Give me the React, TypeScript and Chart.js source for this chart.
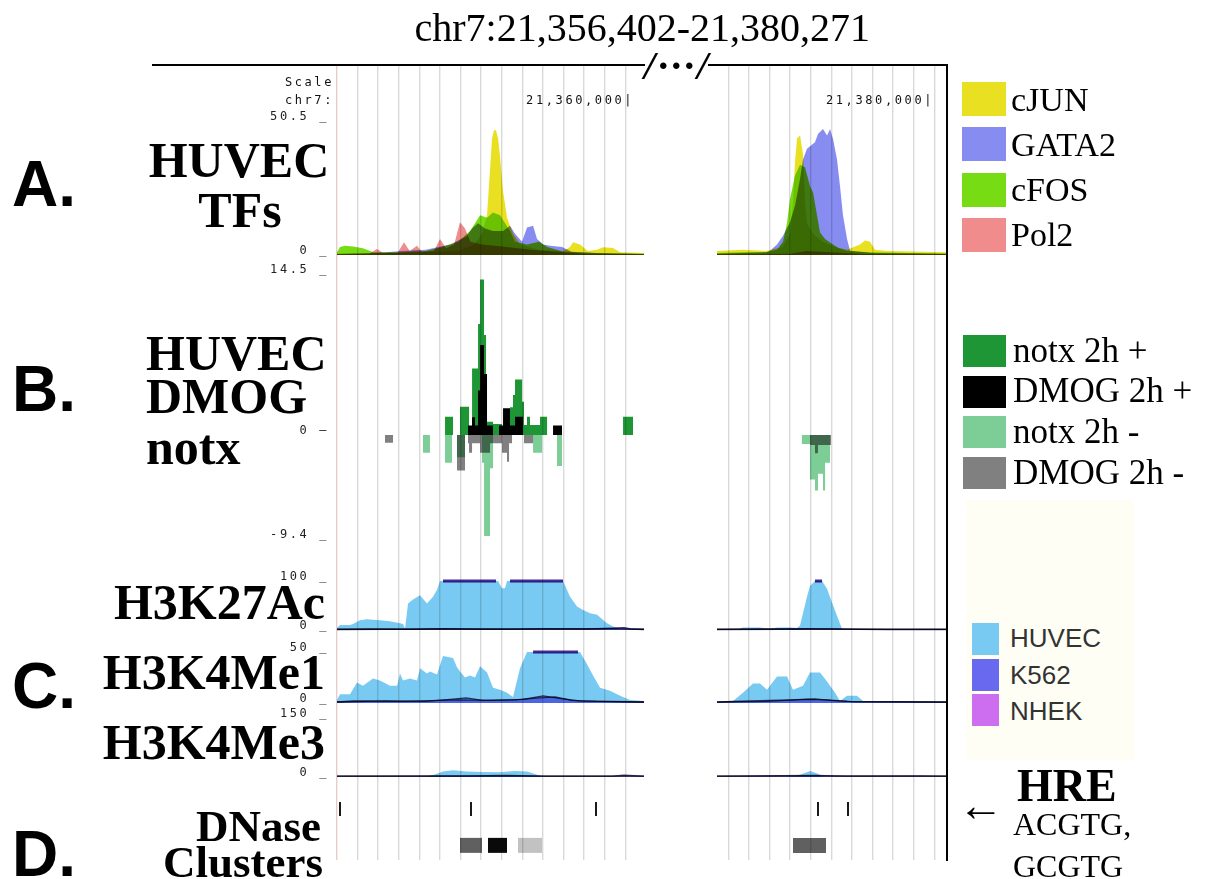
import React, { useEffect, useRef } from 'react';
import { Chart, registerables } from 'chart.js';

Chart.register(...registerables);

type Pt = [number, number];
type Bin = [number, number, number];

// ---------- genomic window (kb on chr7) ----------
const LEFT_WINDOW: [number, number] = [21356.402, 21360.196];
const RIGHT_WINDOW: [number, number] = [21377.392, 21380.222];
const CUT_GAP_KB = 0.902;
const GUIDE_STEP_KB = 0.25457;
const GUIDE_COUNT = 30;
const RULER_POSITIONS = [21360000, 21380000];

// ---------- colours ----------
const C_CJUN = '#e8e020';
const C_GATA2 = '#878cf0';
const C_CFOS = '#78dc14';
const C_POL2 = '#f08c8c';
const C_NOTX_P = '#1e9636';
const C_DMOG_P = '#000000';
const C_NOTX_M = '#7dcd96';
const C_DMOG_M = '#808080';
const C_HUVEC = '#78caf2';
const C_K562 = '#6969f0';
const C_NHEK = '#cd6ef0';

// ---------- A. HUVEC TFs (signal 0-50.5) ----------
const CJUN_L: Pt[] = [[21356.402,0.6],[21356.6,0.8],[21356.9,0.6],[21357.2,0.8],[21357.6,1.2],[21357.9,1.5],[21358.1,4],[21358.194,8],[21358.256,15],[21358.293,32],[21358.318,44],[21358.342,47],[21358.367,47],[21358.392,44],[21358.417,37],[21358.454,24],[21358.503,14],[21358.577,8],[21358.664,4],[21358.9,2],[21359.2,1.5],[21359.282,3],[21359.319,4.8],[21359.405,4],[21359.5,1.5],[21359.616,2],[21359.69,2.9],[21359.813,2.6],[21359.9,1],[21360.196,0.8]];
const CJUN_R: Pt[] = [[21377.392,1.5],[21377.7,2],[21378.0,1.5],[21378.2,3],[21378.294,8],[21378.331,20],[21378.356,35],[21378.381,44],[21378.418,45],[21378.455,38],[21378.48,20],[21378.504,12],[21378.579,8],[21378.7,5],[21378.85,3],[21379.0,2],[21379.159,4],[21379.221,5.5],[21379.283,5],[21379.345,2],[21379.5,1.5],[21380.222,1]];
const GATA2_L: Pt[] = [[21356.402,0.4],[21356.9,0.8],[21357.2,1.5],[21357.5,2],[21357.8,4],[21358.0,7],[21358.071,10],[21358.145,12],[21358.231,10],[21358.33,9],[21358.454,9],[21358.54,11],[21358.602,8],[21358.689,5],[21358.75,10.4],[21358.825,11],[21358.874,6],[21358.95,4],[21359.035,3.5],[21359.183,3],[21359.3,1.2],[21359.6,0.8],[21360.196,0.4]];
const GATA2_R: Pt[] = [[21377.392,0.5],[21378.0,1],[21378.047,1.6],[21378.134,4],[21378.208,7.3],[21378.294,12.3],[21378.356,18.6],[21378.418,28.6],[21378.455,36],[21378.504,40],[21378.603,42.5],[21378.64,45.6],[21378.702,47.5],[21378.752,45],[21378.789,47.5],[21378.826,43.7],[21378.875,36],[21378.912,26],[21378.949,15],[21378.999,6],[21379.036,1.6],[21379.3,0.8],[21380.222,0.5]];
const CFOS_L: Pt[] = [[21356.402,1],[21356.439,3],[21356.501,3.5],[21356.6,3.2],[21356.723,2.5],[21356.85,1],[21357.2,1],[21357.5,1.5],[21357.7,3],[21357.9,5],[21358.046,9],[21358.108,12],[21358.17,15],[21358.256,14],[21358.33,16],[21358.417,15],[21358.479,12],[21358.54,9],[21358.6,5],[21358.75,4],[21358.9,5],[21359.0,3],[21359.2,1.2],[21359.6,0.8],[21360.196,0.5]];
const CFOS_R: Pt[] = [[21377.392,0.8],[21377.7,1],[21378.0,1],[21378.134,2],[21378.208,5],[21378.257,12],[21378.294,21],[21378.356,30],[21378.418,34],[21378.48,33],[21378.541,26],[21378.579,23.6],[21378.628,15],[21378.665,8.5],[21378.727,6],[21378.826,4],[21378.9,2.5],[21379.0,1.5],[21379.3,1],[21380.222,0.5]];
const POL2_L: Pt[] = [[21356.402,0.3],[21356.8,0.5],[21356.896,2.3],[21356.971,0.8],[21357.15,0.8],[21357.23,4.8],[21357.3,1.5],[21357.391,3.5],[21357.45,1.2],[21357.6,1.5],[21357.675,6],[21357.75,2.5],[21357.85,4],[21357.922,12.3],[21357.984,10],[21358.05,5],[21358.2,4],[21358.5,3],[21358.8,2],[21359.2,1],[21359.5,0.5],[21360.196,0.3]];
const POL2_R: Pt[] = [[21377.392,0.3],[21378.3,0.5],[21378.5,1.5],[21378.8,1],[21379.2,0.4],[21380.222,0.3]];

// ---------- B. HUVEC DMOG / notx (signal -9.4..14.5), bins [start, end, value] ----------
const NOTX_PLUS: Bin[] = [[21357.737,21357.836,1.65],[21357.922,21358.034,2.55],[21358.071,21358.145,6.0],[21358.145,21358.17,10],[21358.17,21358.219,14],[21358.219,21358.244,9],[21358.244,21358.33,1.2],[21358.33,21358.441,1.0],[21358.54,21358.577,2.5],[21358.577,21358.602,3.6],[21358.602,21358.689,5.0],[21358.689,21358.713,3.0],[21358.713,21358.75,0.9],[21358.75,21358.787,1.65],[21358.787,21358.911,0.9],[21358.911,21358.998,1.65],[21359.937,21360.061,1.65]];
const DMOG_PLUS: Bin[] = [[21358.021,21358.071,0.85],[21358.071,21358.108,1.6],[21358.108,21358.145,0.85],[21358.145,21358.17,4],[21358.17,21358.219,8.1],[21358.219,21358.256,5.5],[21358.256,21358.33,0.85],[21358.404,21358.454,0.85],[21358.454,21358.54,2.4],[21358.54,21358.602,0.85],[21358.602,21358.701,1.65],[21359.072,21359.183,0.85]];
const NOTX_MINUS: Bin[] = [[21357.465,21357.551,-1.6],[21357.737,21357.823,-2.5],[21357.885,21357.984,-2.0],[21358.194,21358.219,-2.5],[21358.219,21358.293,-9.1],[21358.293,21358.33,-3],[21358.825,21358.936,-1.6],[21359.121,21359.183,-2.8],[21378.441,21378.541,-0.8],[21378.541,21378.603,-4.0],[21378.603,21378.64,-5.0],[21378.64,21378.702,-3.5],[21378.702,21378.727,-5.0],[21378.727,21378.789,-2.5]];
const DMOG_MINUS: Bin[] = [[21356.995,21357.094,-0.7],[21357.885,21357.984,-3.2],[21358.021,21358.034,-0.75],[21358.034,21358.071,-1.6],[21358.071,21358.17,-0.75],[21358.17,21358.293,-1.6],[21358.293,21358.441,-0.75],[21358.441,21358.503,-1.6],[21358.503,21358.528,-2.4],[21358.528,21358.565,-0.75],[21358.713,21358.825,-0.75],[21378.541,21378.603,-0.9],[21378.603,21378.64,-1.65],[21378.64,21378.801,-0.9]];

// ---------- C. histone marks ----------
const K27_HUVEC_L: Pt[] = [[21356.402,4],[21356.439,10],[21356.563,10],[21356.6,12],[21356.686,20],[21356.773,22],[21356.847,21],[21356.933,20],[21357.057,18],[21357.181,14],[21357.218,12],[21357.243,3],[21357.28,54],[21357.341,62],[21357.428,71],[21357.514,54],[21357.589,68],[21357.638,82],[21357.675,100],[21358.392,100],[21358.441,85],[21358.479,85],[21358.503,100],[21359.195,100],[21359.282,68],[21359.368,48],[21359.443,41],[21359.529,34],[21359.616,31],[21359.739,14],[21359.813,7],[21359.9,3],[21360.196,3]];
const K27_HUVEC_R: Pt[] = [[21377.392,1],[21377.65,1.5],[21377.713,5],[21377.924,5],[21378.047,2],[21378.134,5],[21378.294,5],[21378.38,4],[21378.418,9],[21378.455,34],[21378.504,68],[21378.541,90],[21378.603,100],[21378.69,100],[21378.752,84],[21378.813,56],[21378.875,29],[21378.937,2],[21379.2,1],[21380.222,1]];
const K27_K562_L: Pt[] = [[21356.402,1.5],[21356.8,2],[21357.3,1.5],[21357.7,3],[21358.1,2],[21358.6,2.5],[21359.0,3],[21359.5,2],[21359.8,4],[21359.95,5],[21360.05,2],[21360.196,1.5]];
const K27_K562_R: Pt[] = [[21377.392,1.5],[21377.9,2],[21378.5,3],[21378.8,2.5],[21379.2,1.5],[21380.222,1.5]];
const K27_NHEK_L: Pt[] = [[21356.402,1],[21357.0,1.5],[21357.8,2],[21358.5,1.5],[21359.2,2],[21359.85,3],[21360.196,1]];
const K27_NHEK_R: Pt[] = [[21377.392,1],[21378.2,1.5],[21378.8,2],[21379.5,1],[21380.222,1]];
const K27_CLIPPED: [number, number][] = [[21357.712,21358.367],[21358.54,21359.195],[21378.603,21378.69]];

const M1_HUVEC_L: Pt[] = [[21356.402,3],[21356.439,8.5],[21356.563,8.5],[21356.649,20],[21356.723,17],[21356.847,24],[21356.933,22],[21357.057,17],[21357.144,17],[21357.181,29],[21357.218,22],[21357.304,24],[21357.391,22],[21357.428,34],[21357.514,29],[21357.551,31],[21357.638,28],[21357.712,46],[21357.836,44],[21357.885,35],[21357.922,31],[21357.984,25],[21358.046,27],[21358.108,25],[21358.17,36],[21358.256,30],[21358.33,15],[21358.417,13],[21358.503,10],[21358.577,6],[21358.664,34],[21358.75,50],[21359.405,50],[21359.492,38],[21359.566,27],[21359.653,15],[21359.776,12],[21359.9,7],[21360.023,3],[21360.196,2]];
const M1_HUVEC_R: Pt[] = [[21377.392,1],[21377.59,2],[21377.713,10],[21377.837,19],[21377.924,19],[21378.01,13],[21378.134,26],[21378.257,26],[21378.331,13],[21378.455,17],[21378.541,30],[21378.665,30],[21378.752,21],[21378.851,10],[21378.912,2],[21378.999,7],[21379.122,7],[21379.197,2],[21379.6,2],[21380.222,1]];
const M1_K562_L: Pt[] = [[21356.402,1],[21357.0,2],[21357.5,1.5],[21357.8,3.5],[21358.0,5],[21358.2,2.5],[21358.6,3],[21358.9,5],[21359.1,6],[21359.3,2.5],[21359.6,1.5],[21360.196,1]];
const M1_K562_R: Pt[] = [[21377.392,1],[21377.8,2],[21378.3,3],[21378.6,4],[21378.8,2.5],[21379.0,1.5],[21380.222,1]];
const M1_NHEK_L: Pt[] = [[21356.402,1],[21356.6,2],[21357.2,1.5],[21357.9,3],[21358.3,2.5],[21358.7,3.5],[21358.95,7],[21359.15,4.5],[21359.4,2],[21360.196,1]];
const M1_NHEK_R: Pt[] = [[21377.392,1],[21378.0,1.5],[21378.5,3.5],[21378.75,3],[21379.1,1.2],[21380.222,1]];
const M1_CLIPPED: [number, number][] = [[21358.825,21359.38]];

const M3_HUVEC_L: Pt[] = [[21356.402,1],[21357.5,1],[21357.6,6],[21357.712,14],[21357.836,17],[21358.0,14],[21358.2,13],[21358.4,12],[21358.6,15],[21358.75,14],[21358.874,6],[21358.95,1],[21360.196,1]];
const M3_HUVEC_R: Pt[] = [[21377.392,1],[21378.3,1],[21378.418,6],[21378.541,15],[21378.64,8],[21378.702,1],[21380.222,1]];
const M3_K562_L: Pt[] = [[21356.402,2],[21358.0,3],[21358.5,4],[21359.0,2],[21360.196,2]];
const M3_K562_R: Pt[] = [[21377.392,2],[21378.6,4],[21379.0,2],[21380.222,2]];
const M3_NHEK_L: Pt[] = [[21356.402,2],[21359.8,2],[21359.95,5],[21360.196,2]];
const M3_NHEK_R: Pt[] = [[21377.392,2],[21379.9,3],[21380.222,2]];

// ---------- D. HRE motifs and DNase clusters ----------
const HRE_SITES = [21356.439, 21358.058, 21359.603, 21378.64, 21379.011];
const DNASE_CLUSTERS: Bin[] = [[21357.922,21358.194,650],[21358.268,21358.503,1000],[21358.639,21358.936,250],[21378.331,21378.739,650]];

// ---------- axis tick labels ----------
const TICKS_A = [0, 50.5];
const TICKS_B = [-9.4, 0, 14.5];
const TICKS_K27 = [0, 100];
const TICKS_M1 = [0, 50];
const TICKS_M3 = [0, 150];

// ---------- layout ----------
const W = 1212;
const H = 879;
const PLOT_LEFT = 337;
const PLOT_RIGHT = 946;
const PLOT_TOP = 65;
const PLOT_BOTTOM = 860;
const AXIS_W = 80;
const HRE_ROW = 0.68;
const DNASE_ROW: [number, number] = [0.095, 0.295];

const TRACKS = [
  { id: 'yA', top: 65, bottom: 264, hiVal: 50.5, hiPx: 121, loVal: 0, loPx: 255, ticks: TICKS_A },
  { id: 'yB', top: 264, bottom: 560, hiVal: 14.5, hiPx: 274, loVal: 0, loPx: 435, ticks: TICKS_B },
  { id: 'yK27', top: 560, bottom: 637, hiVal: 100, hiPx: 581, loVal: 0, loPx: 630, ticks: TICKS_K27 },
  { id: 'yM1', top: 637, bottom: 710, hiVal: 50, hiPx: 652, loVal: 0, loPx: 703, ticks: TICKS_M1 },
  { id: 'yM3', top: 710, bottom: 785, hiVal: 150, hiPx: 718, loVal: 0, loPx: 777, ticks: TICKS_M3 },
  { id: 'yD', top: 785, bottom: 860, hiVal: 1, hiPx: 785, loVal: 0, loPx: 860, ticks: [] as number[] },
];

const SERIF = '"Liberation Serif", "Times New Roman", serif';
const SANS = '"Liberation Sans", Arial, sans-serif';
const MONO = '"DejaVu Sans Mono", monospace';

const SHIFT = RIGHT_WINDOW[0] - (LEFT_WINDOW[1] + CUT_GAP_KB);
const disp = (kb: number) => (kb >= RIGHT_WINDOW[0] ? kb - SHIFT : kb);
const GAP_X = LEFT_WINDOW[1] + CUT_GAP_KB / 2;

function area(left: Pt[], right: Pt[]) {
  return [
    ...left.map(([x, y]) => ({ x: disp(x), y })),
    { x: GAP_X, y: null },
    ...right.map(([x, y]) => ({ x: disp(x), y })),
  ];
}
function steps(bins: Bin[]) {
  const out: any[] = [];
  [...bins].sort((a, b) => a[0] - b[0]).forEach(([s, e, v]) => {
    out.push({ x: disp(s), y: 0 }, { x: disp(s), y: v }, { x: disp(e), y: v }, { x: disp(e), y: 0 });
  });
  return out;
}
function clipBars(intervals: [number, number][], value: number) {
  const out: any[] = [];
  intervals.forEach(([s, e]) => {
    out.push({ x: disp(s), y: value }, { x: disp(e), y: value }, { x: disp(e), y: null });
  });
  return out;
}
const withAlpha = (hex: string, a: number) => {
  const n = parseInt(hex.slice(1), 16);
  return `rgba(${(n >> 16) & 255},${(n >> 8) & 255},${n & 255},${a})`;
};
const filled = (data: any[], color: string, axis: string, extra: any = {}) => ({
  data, yAxisID: axis, backgroundColor: color, borderColor: 'rgba(0,0,0,0)', borderWidth: 0,
  fill: 'origin', pointRadius: 0, tension: 0, ...extra,
});
const darkEdge = { borderColor: 'rgba(40,30,60,0.85)', borderWidth: 1.3 };
const grayForScore = (s: number) => {
  const v = Math.round(255 - s * 0.245);
  return `rgb(${v},${v},${v})`;
};

function buildDatasets() {
  const ds: any[] = [
    filled(area(CJUN_L, CJUN_R), C_CJUN, 'yA'),
    filled(area(GATA2_L, GATA2_R), C_GATA2, 'yA'),
    filled(area(CFOS_L, CFOS_R), C_CFOS, 'yA'),
    filled(area(POL2_L, POL2_R), C_POL2, 'yA'),
    filled(steps(NOTX_PLUS), C_NOTX_P, 'yB'),
    filled(steps(DMOG_PLUS), C_DMOG_P, 'yB'),
    filled(steps(NOTX_MINUS), C_NOTX_M, 'yB'),
    filled(steps(DMOG_MINUS), C_DMOG_M, 'yB'),
    filled(area(K27_HUVEC_L, K27_HUVEC_R), C_HUVEC, 'yK27'),
    filled(area(K27_K562_L, K27_K562_R), withAlpha(C_K562, 0.6), 'yK27', darkEdge),
    filled(area(K27_NHEK_L, K27_NHEK_R), withAlpha(C_NHEK, 0.6), 'yK27', darkEdge),
    { data: clipBars(K27_CLIPPED, TICKS_K27[1]), yAxisID: 'yK27', borderColor: '#4a2a90', borderWidth: 3, fill: false, pointRadius: 0 },
    filled(area(M1_HUVEC_L, M1_HUVEC_R), C_HUVEC, 'yM1'),
    filled(area(M1_K562_L, M1_K562_R), withAlpha(C_K562, 0.5), 'yM1', darkEdge),
    filled(area(M1_NHEK_L, M1_NHEK_R), withAlpha(C_NHEK, 0.5), 'yM1', darkEdge),
    { data: clipBars(M1_CLIPPED, TICKS_M1[1]), yAxisID: 'yM1', borderColor: '#4a2a90', borderWidth: 3, fill: false, pointRadius: 0 },
    filled(area(M3_HUVEC_L, M3_HUVEC_R), C_HUVEC, 'yM3'),
    filled(area(M3_K562_L, M3_K562_R), withAlpha(C_K562, 0.6), 'yM3', darkEdge),
    filled(area(M3_NHEK_L, M3_NHEK_R), withAlpha(C_NHEK, 0.6), 'yM3', darkEdge),
    {
      data: HRE_SITES.map((x) => ({ x: disp(x), y: HRE_ROW })), yAxisID: 'yD', showLine: false,
      pointStyle: 'line', pointRotation: 90, pointRadius: 7, pointBorderWidth: 2, pointBorderColor: '#1a1a1a',
      pointBackgroundColor: '#1a1a1a',
    },
  ];
  DNASE_CLUSTERS.forEach(([s, e, score]) => {
    ds.push({
      data: [{ x: disp(s), y: DNASE_ROW[1] }, { x: disp(e), y: DNASE_ROW[1] }], yAxisID: 'yD',
      backgroundColor: grayForScore(score), borderColor: 'rgba(0,0,0,0)', borderWidth: 0,
      fill: { value: DNASE_ROW[0] }, pointRadius: 0,
    });
  });
  return ds;
}

function buildScales() {
  const scales: any = {
    x: {
      type: 'linear', position: 'bottom', bounds: 'data',
      min: LEFT_WINDOW[0], max: disp(RIGHT_WINDOW[1]),
      afterBuildTicks: (s: any) => {
        s.ticks = Array.from({ length: GUIDE_COUNT }, (_, k) => ({ value: LEFT_WINDOW[0] + k * GUIDE_STEP_KB }));
      },
      afterFit: (s: any) => { s.height = 0; },
      ticks: { display: false },
      border: { display: false },
      grid: {
        drawTicks: false, lineWidth: 1.4,
        color: (ctx: any) => {
          const v = ctx.tick ? ctx.tick.value : 0;
          if (v > LEFT_WINDOW[1] && v < RIGHT_WINDOW[0] - SHIFT) return 'rgba(0,0,0,0)';
          return ctx.index === 0 ? '#e8cccc' : '#d9d9d9';
        },
      },
    },
  };
  TRACKS.forEach((t, i) => {
    const ppu = (t.loPx - t.hiPx) / (t.hiVal - t.loVal);
    scales[t.id] = {
      type: 'linear', position: 'left', stack: 'tracks', stackWeight: t.bottom - t.top,
      weight: TRACKS.length - i, bounds: 'data',
      min: t.loVal - (t.bottom - t.loPx) / ppu,
      max: t.hiVal + (t.hiPx - t.top) / ppu,
      afterBuildTicks: (s: any) => { s.ticks = t.ticks.map((v) => ({ value: v })); },
      afterFit: (s: any) => { s.width = AXIS_W; },
      grid: { display: false, drawTicks: false },
      border: { display: false },
      ticks: {
        autoSkip: false, padding: 8, labelOffset: -4, color: '#222',
        font: { family: MONO, size: 12 },
        callback: (v: number) => (t.id === 'yB' && v === 0 ? '0 \u2013' : `${v} _`),
      },
    };
  });
  return scales;
}

const pagePlugin = {
  id: 'pageLook',
  beforeDraw(chart: any) {
    const c = chart.ctx;
    c.save();
    c.fillStyle = '#ffffff';
    c.fillRect(0, 0, chart.width, chart.height);
    c.restore();
    c.letterSpacing = '2.6px';
  },
  beforeDatasetsDraw(chart: any) {
    chart.ctx.save();
    chart.ctx.globalCompositeOperation = 'multiply';
  },
  afterDatasetsDraw(chart: any) {
    chart.ctx.restore();
  },
  afterDraw(chart: any) {
    const c = chart.ctx;
    const xs = chart.scales.x;
    c.save();
    c.letterSpacing = '2.6px';
    c.font = `12px ${MONO}`;
    c.fillStyle = '#111';
    c.textAlign = 'right';
    c.textBaseline = 'alphabetic';
    RULER_POSITIONS.forEach((bp) => {
      const px = xs.getPixelForValue(disp(bp / 1000));
      c.fillText(`${bp.toLocaleString('en-US')}|`, px + 6, 104);
    });
    c.restore();
  },
};

type TxtProps = {
  x: number; y: number; size: number; font?: string; weight?: number | string; italic?: boolean;
  align?: 'left' | 'right' | 'center'; color?: string; spacing?: number; children: React.ReactNode;
};
function Txt({ x, y, size, font = SERIF, weight = 400, italic = false, align = 'left', color = '#000', spacing = 0, children }: TxtProps) {
  const style: React.CSSProperties = {
    position: 'absolute', top: y - size * 0.84, fontFamily: font, fontSize: size, lineHeight: `${size}px`,
    fontWeight: weight as any, fontStyle: italic ? 'italic' : 'normal', color, whiteSpace: 'nowrap', letterSpacing: spacing,
  };
  if (align === 'left') style.left = x;
  else if (align === 'right') style.right = W - x;
  else { style.left = x; style.transform = 'translateX(-50%)'; }
  return <div style={style}>{children}</div>;
}
function Box({ x, y, w, h, color }: { x: number; y: number; w: number; h: number; color: string }) {
  return <div style={{ position: 'absolute', left: x, top: y, width: w, height: h, background: color }} />;
}

const LEGEND_TF = [['cJUN', C_CJUN], ['GATA2', C_GATA2], ['cFOS', C_CFOS], ['Pol2', C_POL2]];
const LEGEND_DMOG = [['notx 2h +', C_NOTX_P], ['DMOG 2h +', C_DMOG_P], ['notx 2h -', C_NOTX_M], ['DMOG 2h -', C_DMOG_M]];
const LEGEND_CELL = [['HUVEC', C_HUVEC], ['K562', C_K562], ['NHEK', C_NHEK]];

export default function App() {
  const ref = useRef<HTMLCanvasElement>(null);
  useEffect(() => {
    if (!ref.current) return;
    const chart = new Chart(ref.current, {
      type: 'line',
      data: { datasets: buildDatasets() },
      options: {
        animation: false,
        responsive: false,
        events: [],
        layout: { padding: { left: PLOT_LEFT - AXIS_W, right: W - PLOT_RIGHT, top: PLOT_TOP, bottom: H - PLOT_BOTTOM } },
        plugins: { legend: { display: false }, tooltip: { enabled: false }, title: { display: false } },
        elements: { point: { radius: 0 }, line: { tension: 0 } },
        scales: buildScales(),
      } as any,
      plugins: [pagePlugin as any],
    });
    return () => chart.destroy();
  }, []);

  return (
    <div style={{ position: 'absolute', left: 0, top: 0, width: W, height: H, background: '#fff', overflow: 'hidden' }}>
      <canvas ref={ref} width={W} height={H} style={{ position: 'absolute', left: 0, top: 0, width: W, height: H }} />

      <Txt x={870} y={42} size={40} align="right">chr7:21,356,402-21,380,271</Txt>
      <div style={{ position: 'absolute', left: 152, top: 64, width: 493, height: 2, background: '#000' }} />
      <div style={{ position: 'absolute', left: 708, top: 64, width: 240, height: 2, background: '#000' }} />
      <div style={{ position: 'absolute', left: 946, top: 64, width: 2, height: 797, background: '#000' }} />
      <Txt x={644} y={80} size={40} weight={700} italic spacing={3}>/···/</Txt>

      <Txt x={334} y={86} size={12} font={MONO} spacing={2.6} align="right" color="#111">Scale</Txt>
      <Txt x={334} y={104} size={12} font={MONO} spacing={2.6} align="right" color="#111">chr7:</Txt>

      <Txt x={12} y={206} size={64} font={SANS} weight={700}>A.</Txt>
      <Txt x={239} y={177} size={50} weight={700} align="center">HUVEC</Txt>
      <Txt x={240} y={227} size={50} weight={700} align="center">TFs</Txt>

      <Txt x={12} y={411} size={64} font={SANS} weight={700}>B.</Txt>
      <Txt x={146} y={370} size={50} weight={700}>HUVEC</Txt>
      <Txt x={146} y={413} size={50} weight={700}>DMOG</Txt>
      <Txt x={146} y={464} size={50} weight={700}>notx</Txt>

      <Txt x={12} y={708} size={64} font={SANS} weight={700}>C.</Txt>
      <Txt x={325} y={619} size={50} weight={700} align="right">H3K27Ac</Txt>
      <Txt x={325} y={689} size={50} weight={700} align="right">H3K4Me1</Txt>
      <Txt x={325} y={759} size={50} weight={700} align="right">H3K4Me3</Txt>

      <Txt x={12} y={876} size={64} font={SANS} weight={700}>D.</Txt>
      <Txt x={321} y={842} size={45} weight={700} align="right">DNase</Txt>
      <Txt x={323} y={878} size={45} weight={700} align="right">Clusters</Txt>

      {LEGEND_TF.map(([label, color], i) => (
        <React.Fragment key={label}>
          <Box x={962} y={82 + i * 45.3} w={44} h={34} color={color} />
          <Txt x={1011} y={112 + i * 45} size={34}>{label}</Txt>
        </React.Fragment>
      ))}
      {LEGEND_DMOG.map(([label, color], i) => (
        <React.Fragment key={label}>
          <Box x={963} y={335 + i * 40.7} w={43} h={32} color={color} />
          <Txt x={1013} y={362 + i * 40.7} size={35}>{label}</Txt>
        </React.Fragment>
      ))}
      <div style={{ position: 'absolute', left: 966, top: 500, width: 168, height: 260, background: '#fffef4' }} />
      {LEGEND_CELL.map(([label, color], i) => (
        <React.Fragment key={label}>
          <Box x={972} y={623 + i * 35.7} w={27} h={32} color={color} />
          <Txt x={1010} y={647 + i * 36.5} size={26} font={SANS} color="#333">{label}</Txt>
        </React.Fragment>
      ))}
      <Txt x={958} y={822} size={46}>←</Txt>
      <Txt x={1017} y={802} size={46} weight={700}>HRE</Txt>
      <Txt x={1013} y={835} size={32}>ACGTG,</Txt>
      <Txt x={1013} y={877} size={32}>GCGTG</Txt>
    </div>
  );
}
